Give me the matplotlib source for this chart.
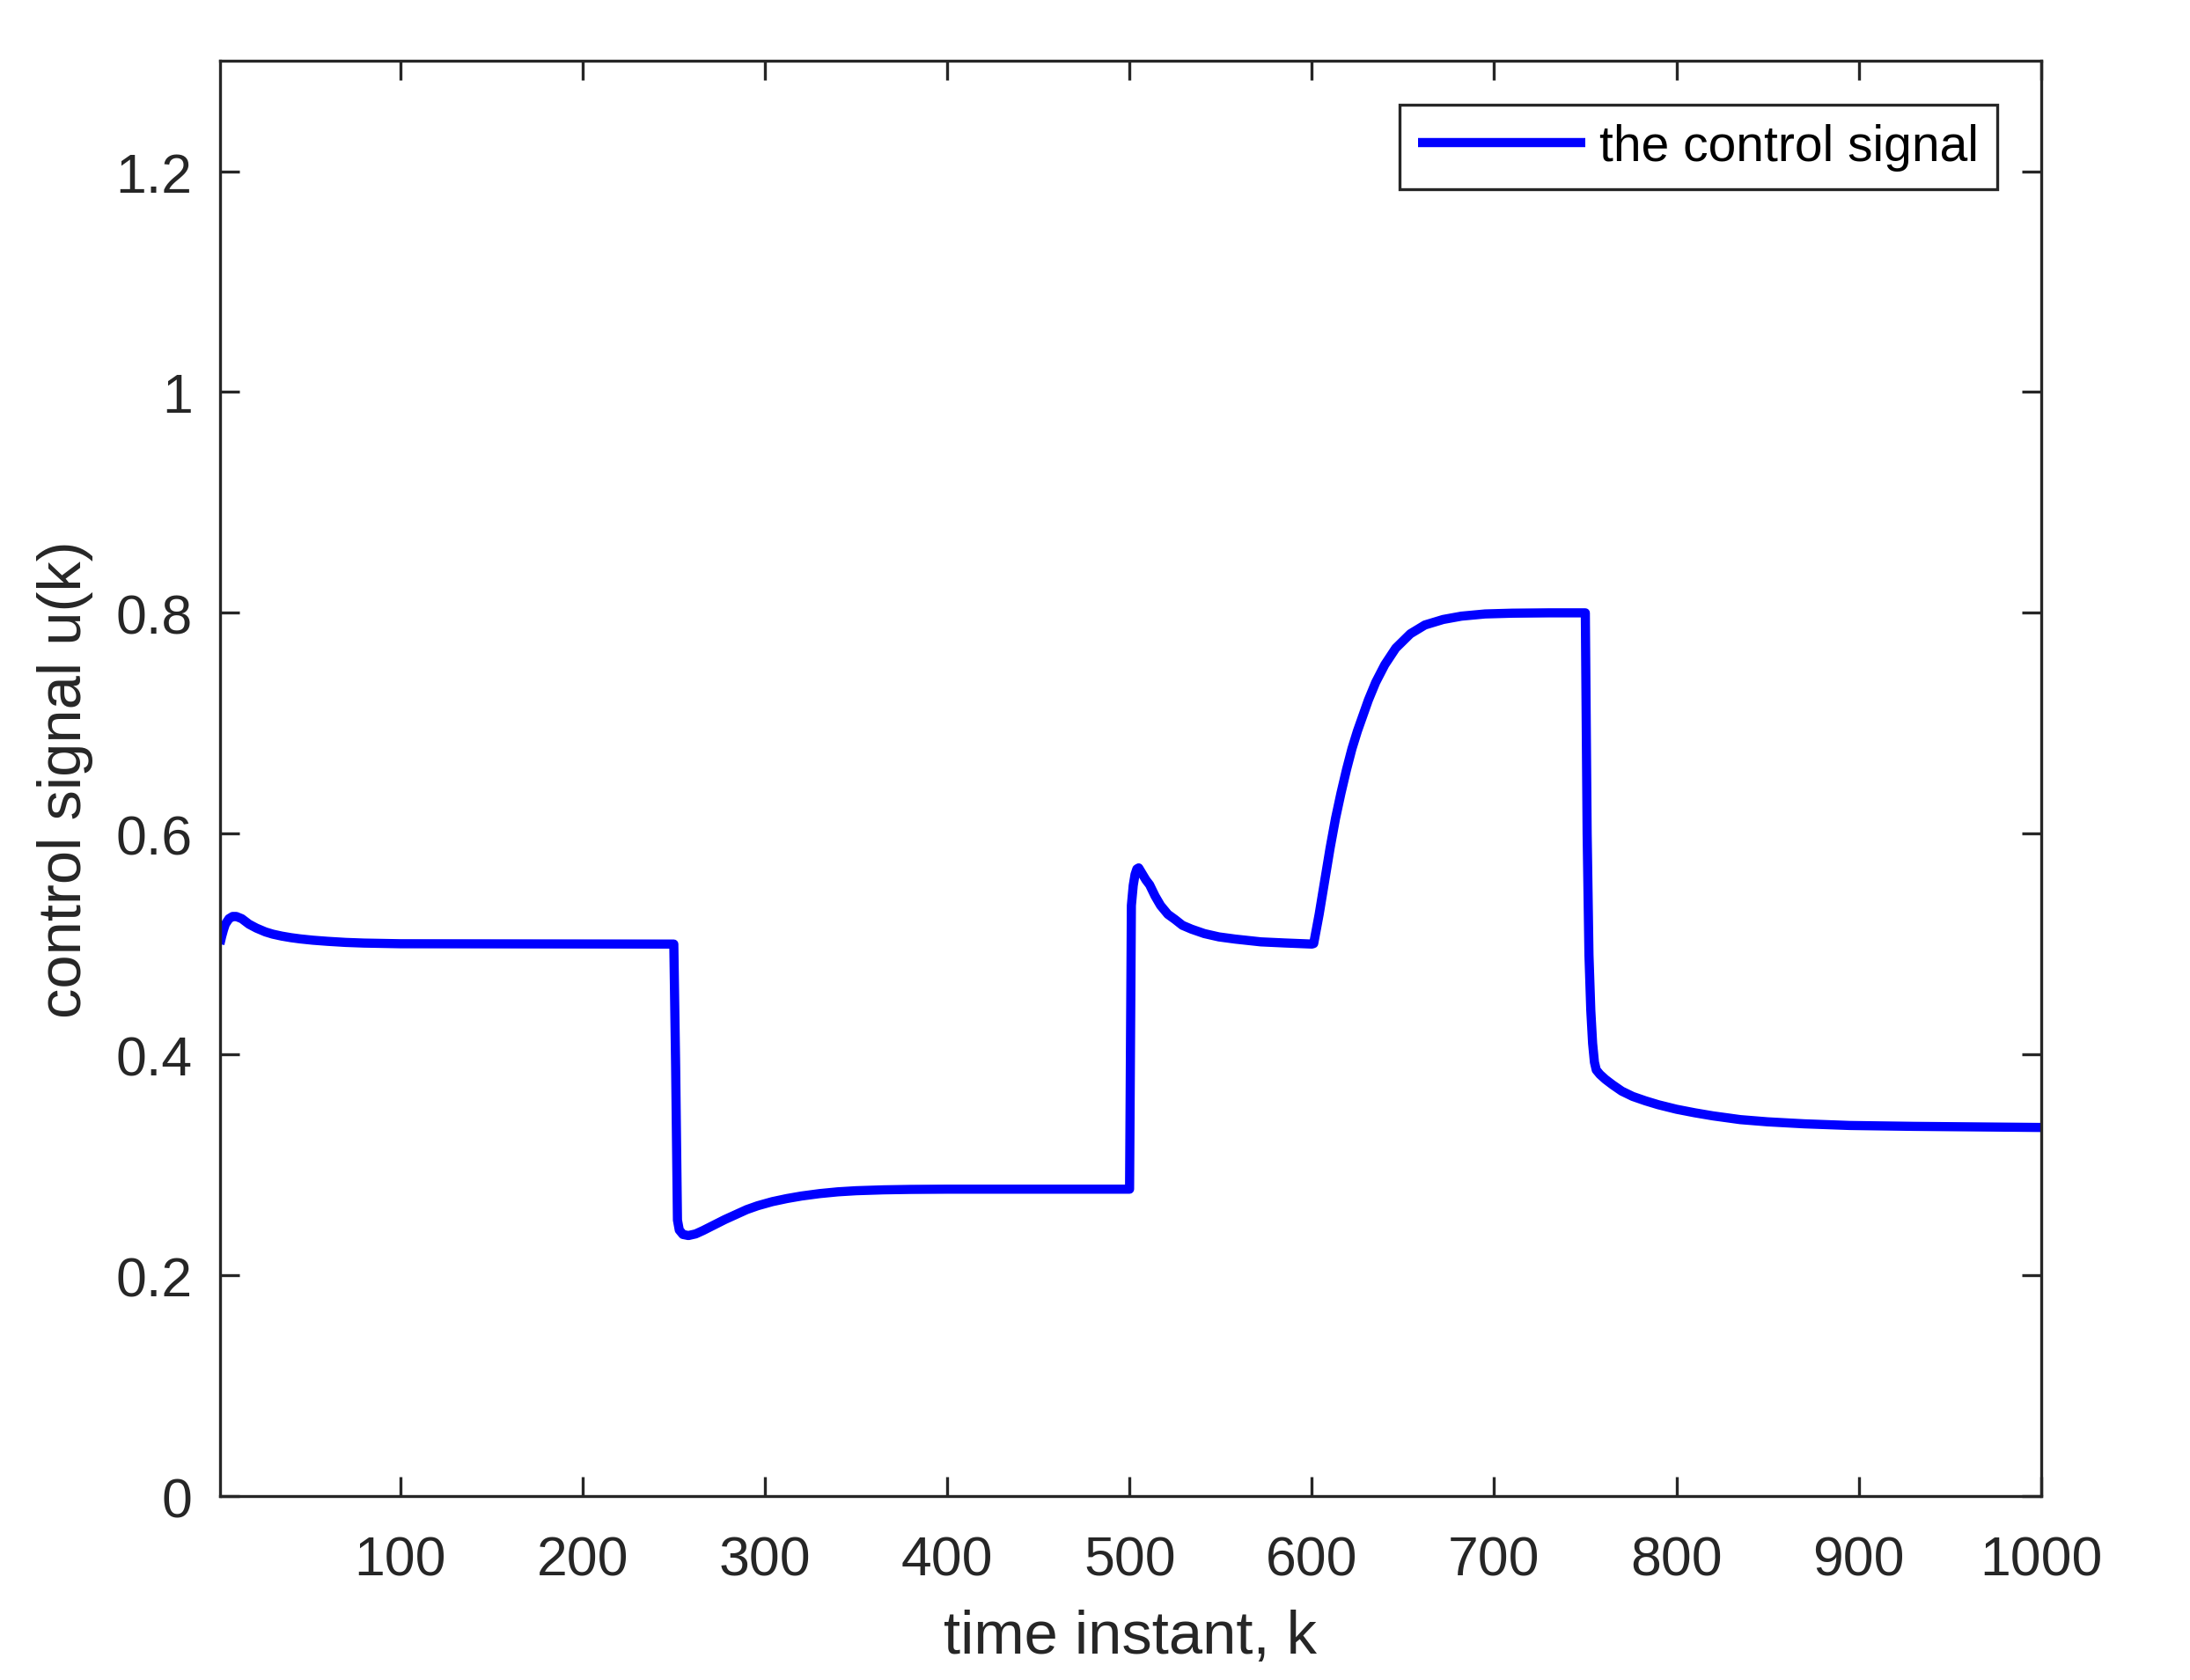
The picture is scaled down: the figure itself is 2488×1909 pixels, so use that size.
import matplotlib
matplotlib.use('Agg')
import matplotlib.pyplot as plt

# control signal u(k) at its breakpoints
k = [1, 2, 3, 4, 6, 8, 10, 13, 17, 21, 26, 30, 35, 40, 45, 52, 60, 70, 80, 100, 250,
     251, 252, 253, 255, 258, 262, 266, 272, 278, 284, 290, 296, 304, 312, 320, 330, 340, 350, 365, 380, 400, 500,
     501, 502, 503, 504, 505, 507, 509, 511, 514, 517, 521, 525, 529, 534, 541, 549, 558, 572, 585, 600,
     601, 604, 607, 610, 613, 616, 619, 622, 625, 628, 631, 635, 640, 646, 654, 662, 672, 682, 695, 710, 730, 750,
     751, 752, 753, 754, 755, 756, 758, 761, 765, 770, 776, 783, 790, 800, 810, 820, 835, 850, 870, 895, 930, 965, 1000]
u = [0.500, 0.507, 0.513, 0.518, 0.523, 0.525, 0.525, 0.523, 0.518, 0.5145, 0.511, 0.509, 0.5072, 0.5058, 0.5047,
     0.5035, 0.5025, 0.5015, 0.5009, 0.5003, 0.500,
     0.390, 0.250, 0.241, 0.237, 0.236, 0.2375, 0.2405, 0.2455, 0.2505, 0.2550, 0.2595, 0.2630, 0.2667, 0.2695,
     0.2718, 0.2740, 0.2756, 0.2766, 0.2774, 0.2778, 0.278, 0.278,
     0.535, 0.553, 0.563, 0.568, 0.569, 0.5635, 0.558, 0.5537, 0.5435, 0.535, 0.527, 0.5222, 0.517, 0.5135,
     0.5095, 0.5065, 0.5045, 0.502, 0.501, 0.500,
     0.5005, 0.527, 0.557, 0.587, 0.614, 0.637, 0.658, 0.677, 0.693, 0.707, 0.721, 0.737, 0.753, 0.768, 0.781,
     0.789, 0.794, 0.797, 0.799, 0.7997, 0.800, 0.800,
     0.600, 0.490, 0.440, 0.410, 0.393, 0.386, 0.382, 0.3775, 0.3725, 0.3668, 0.362, 0.358, 0.3545, 0.3504, 0.3472,
     0.3444, 0.3410, 0.3390, 0.3372, 0.3357, 0.3349, 0.3344, 0.3339]

xticks = [100, 200, 300, 400, 500, 600, 700, 800, 900, 1000]
yticks = [0, 0.2, 0.4, 0.6, 0.8, 1.0, 1.2]
yticklabels = ['0', '0.2', '0.4', '0.6', '0.8', '1', '1.2']

plt.rcParams['font.family'] = ['Liberation Sans', 'DejaVu Sans']
dark = '#262626'

fig = plt.figure(figsize=(2488 / 300, 1910 / 300), dpi=300)
ax = fig.add_axes([0.1004, 0.1094, 0.8316, 0.8539])

ax.plot(k, u, color='#0000ff', lw=2.5, solid_joinstyle='round', solid_capstyle='butt',
        label='the control signal')

ax.set_xlim(1, 1000)
ax.set_ylim(0, 1.3)
ax.set_xticks(xticks)
ax.set_yticks(yticks)
ax.set_yticklabels(yticklabels)

ax.tick_params(direction='in', length=5.3, width=0.8, colors=dark, labelsize=15,
               top=True, right=True)
ax.tick_params(axis='x', pad=10.5)
ax.tick_params(axis='y', pad=7.5)
for s in ax.spines.values():
    s.set_linewidth(0.8)
    s.set_color(dark)

ax.set_xlabel('time instant, k', fontsize=16.5, color=dark, labelpad=6)
ax.set_ylabel('control signal u(k)', fontsize=16.5, color=dark, labelpad=6)

leg = ax.legend(loc='upper right', fontsize=13.7, fancybox=False, framealpha=1,
                handlelength=3.33, handletextpad=0.28, borderpad=0.37, borderaxespad=0.87)
leg.get_frame().set_edgecolor(dark)
leg.get_frame().set_linewidth(0.8)

fig.savefig('out.png', dpi=300)
